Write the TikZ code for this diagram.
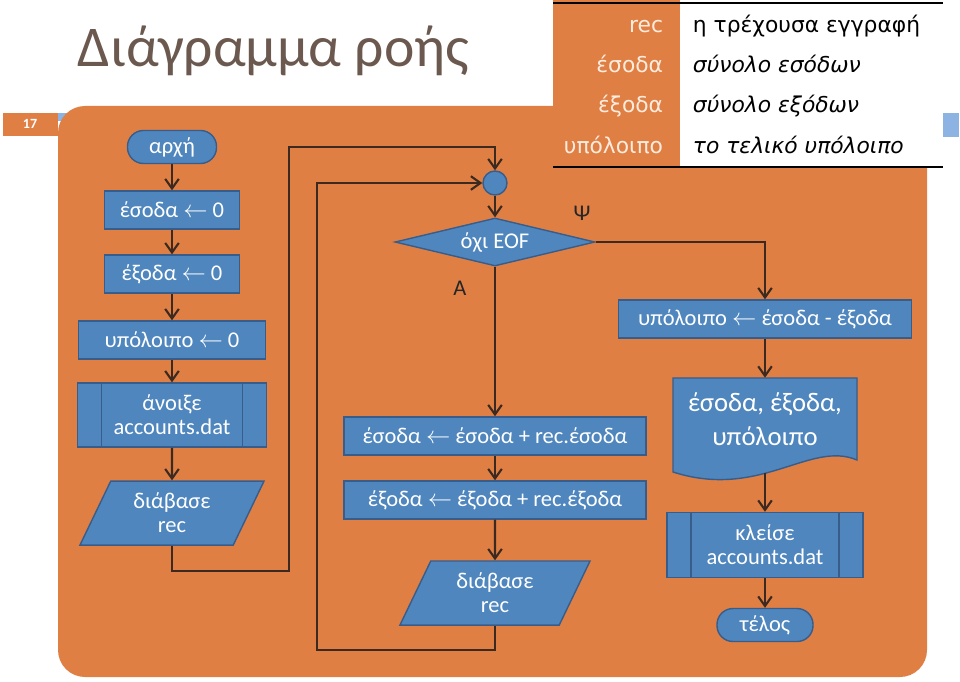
\documentclass[tikz,border=0pt]{standalone}
\usepackage{fontspec}
\setmainfont{Carlito}
\newfontfamily\tabfont{DejaVu Sans}
\usepackage{tikz}
\usetikzlibrary{shapes, arrows.meta, positioning}

\definecolor{slideorange}{RGB}{223,127,68}
\definecolor{boxblue}{RGB}{79,134,190}
\definecolor{boxedge}{RGB}{56,93,138}
\definecolor{flowline}{RGB}{60,42,32}
\definecolor{titlegray}{RGB}{107,88,78}
\definecolor{cream}{RGB}{253,236,222}
\definecolor{tabblue}{RGB}{141,179,226}

\newcommand{\assign}{$\leftarrow$}

\begin{document}
\begin{tikzpicture}[x=0.025cm, y=-0.025cm,
 proc node/.style={rectangle, draw=boxedge, fill=boxblue, text=white, line width=1pt,
   minimum height=0.95cm, align=center, font=\fontsize{16}{17}\selectfont},
 term node/.style={proc node, rounded corners=0.4cm, minimum height=0.825cm},
 io node/.style={proc node, trapezium, trapezium left angle=58, trapezium right angle=122,
   trapezium stretches body, minimum height=1.6cm, inner xsep=0pt},
 pp node/.style={proc node, minimum height=1.6cm,
   path picture={\draw[boxedge, line width=1pt]
     ([xshift=0.6cm]path picture bounding box.north west) -- ([xshift=0.6cm]path picture bounding box.south west)
     ([xshift=-0.6cm]path picture bounding box.north east) -- ([xshift=-0.6cm]path picture bounding box.south east);}},
 cond node/.style={proc node, diamond, aspect=4.2, inner sep=0pt, minimum width=5cm, minimum height=1.2cm},
 join node/.style={circle, draw=boxedge, fill=boxblue, line width=1pt, minimum size=0.6cm, inner sep=0pt},
 doc shape/.style={draw=boxedge, fill=boxblue, line width=1pt},
 doc text/.style={text=white, align=center, font=\fontsize{19}{24}\selectfont},
 flow/.style={draw=flowline, line width=1.5pt, -{Straight Barb[length=2.4mm, width=3.4mm]}},
 branch text/.style={text=black!85, font=\fontsize{16}{17}\selectfont},
 key text/.style={text=cream, font=\tabfont\fontsize{15.5}{17}\selectfont, anchor=base east},
 val text/.style={text=black, font=\tabfont\fontsize{15.5}{17}\selectfont, anchor=base west}]

  \useasboundingbox (0,0) rectangle (960,682);

  % slide background
  \fill[tabblue] (55,113) rectangle (75,121);
  \fill[tabblue] (943,113) rectangle (959,137);
  \fill[slideorange, rounded corners=0.675cm] (58,106) rectangle (927,677);
  \fill[slideorange] (3,113) rectangle (58,136);
  \node[text=white, font=\bfseries\fontsize{10}{11}\selectfont] (page) at (30,124) {17};
  \node[text=titlegray, font=\fontsize{41}{44}\selectfont, anchor=base west] (title) at (73,67) {Διάγραμμα ροής};

  % variables table
  \fill[slideorange] (553,0) rectangle (680,168);
  \fill[white] (680,3) rectangle (943,166);
  \draw[black, line width=2pt] (553,3) -- (943,3) (553,167) -- (943,167);
  \node[key text] (k1) at (668,33) {rec};
  \node[key text] (k2) at (668,73) {έσοδα};
  \node[key text] (k3) at (668,113) {έξοδα};
  \node[key text] (k4) at (668,154) {υπόλοιπο};
  \node[val text] (v1) at (688,33) {η τρέχουσα εγγραφή};
  \node[val text, font=\tabfont\itshape\fontsize{15.5}{17}\selectfont] (v2) at (688,73) {σύνολο εσόδων};
  \node[val text, font=\tabfont\itshape\fontsize{15.5}{17}\selectfont] (v3) at (688,113) {σύνολο εξόδων};
  \node[val text, font=\tabfont\itshape\fontsize{15.5}{17}\selectfont] (v4) at (688,154) {το τελικό υπόλοιπο};

  % left column
  \node[term node, minimum width=2.225cm] (start) at (172,147) {αρχή};
  \node[proc node, minimum width=3.375cm] (inc0) [below of=start, node distance=1.575cm] {έσοδα \assign{} 0};
  \node[proc node, minimum width=3.375cm] (exp0) [below of=inc0, node distance=1.6cm] {έξοδα \assign{} 0};
  \node[proc node, minimum width=4.675cm] (bal0) [below of=exp0, node distance=1.65cm] {υπόλοιπο \assign{} 0};
  \node[pp node, minimum width=4.725cm] (open) [below of=bal0, node distance=1.875cm] {άνοιξε\\accounts.dat};
  \node[io node, minimum width=4.6cm] (read1) [below of=open, node distance=2.45cm] {διάβασε\\rec};

  % loop body
  \node[join node] (join) at (495,183) {};
  \node[cond node] (eof) [below of=join, node distance=1.475cm] {όχι EOF};
  \node[proc node, minimum width=7.55cm] (addinc) at (495,436) {έσοδα \assign{} έσοδα + rec.έσοδα};
  \node[proc node, minimum width=7.55cm] (addexp) [below of=addinc, node distance=1.6cm] {έξοδα \assign{} έξοδα + rec.έξοδα};
  \node[io node, minimum width=4.75cm] (read2) [below of=addexp, node distance=2.325cm] {διάβασε\\rec};
  \node[branch text] (false) at (582,213) {Ψ};
  \node[branch text] (true) at (460,288) {Α};

  % right column
  \node[proc node, minimum width=7.325cm] (bal) at (765,319) {υπόλοιπο \assign{} έσοδα - έξοδα};
  \path[doc shape] (673,378) -- (857,378) -- (857,460) .. controls (810,440) and (760,500) .. (673,472) -- cycle;
  \node[doc text, minimum width=4.6cm, minimum height=2.05cm] (print) at (765,419) {έσοδα, έξοδα,\\υπόλοιπο};
  \coordinate (printb) at (765,473);
  \node[pp node, minimum width=4.9cm, minimum height=1.625cm] (close) at (765,545) {κλείσε\\accounts.dat};
  \node[term node, minimum width=2.4cm] (end) [below of=close, node distance=2cm] {τέλος};

  \foreach \s/\t in {start/inc0, inc0/exp0, exp0/bal0, bal0/open, open/read1,
                     join/eof, eof/addinc, addinc/addexp, addexp/read2,
                     bal/print, printb/close, close/end}
    \draw[flow] (\s) -- (\t);

  \draw[flow] (read1.south) -- ++(0,25) -| (289,147) -| (join.north);
  \draw[flow] (read2.south) -- ++(0,24) -| (317,183) -- (join.west);
  \draw[flow] (eof.east) -| (bal.north);
\end{tikzpicture}
\end{document}
